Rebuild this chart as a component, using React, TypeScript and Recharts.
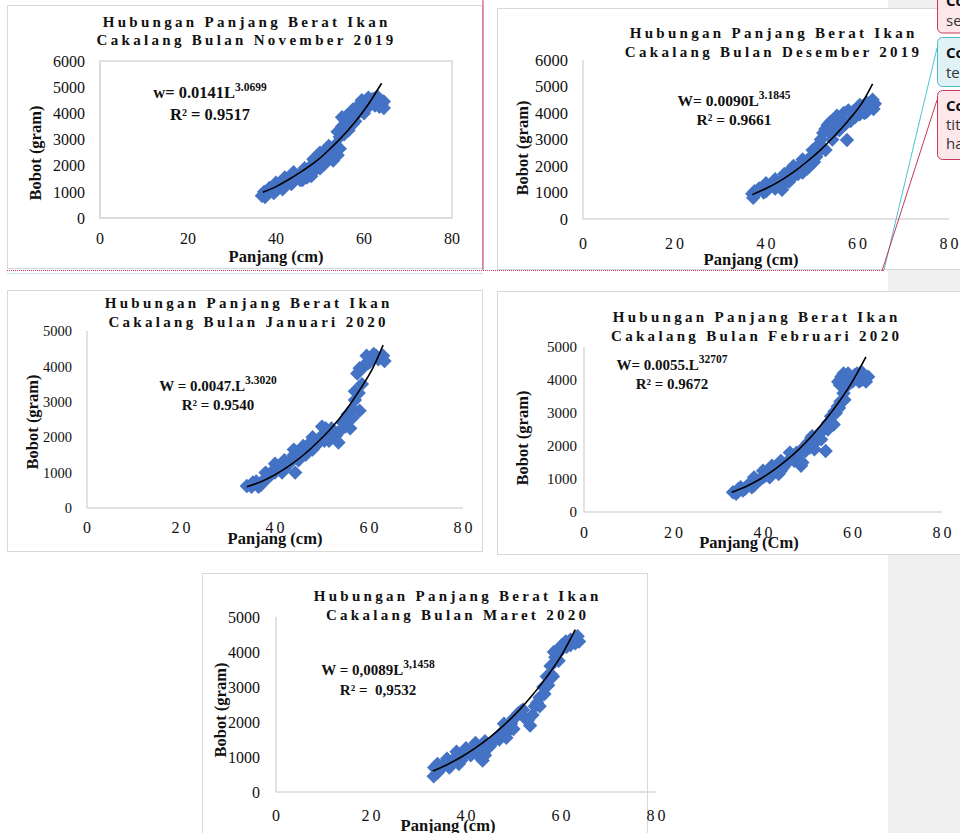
import { ReferenceArea, Scatter, ScatterChart, XAxis, YAxis } from "recharts";

type Pair = [number, number];

const xTicks = [0, 20, 40, 60, 80];
const yTicks6000 = [0, 1000, 2000, 3000, 4000, 5000, 6000];
const yTicks5000 = [0, 1000, 2000, 3000, 4000, 5000];

// [panjang (cm), bobot (gram)]
const novPoints: Pair[] = [
  [36.8, 850], [37.3, 1000], [37.5, 800], [38.2, 950], [38.5, 1150], [39, 1100], [39.5, 950],
  [40, 1050], [40, 1350], [40.5, 1250], [41, 1200], [41.5, 1100], [42, 1300], [42, 1550],
  [42.5, 1450], [43, 1500], [43.5, 1300], [44, 1400], [44, 1750], [44.5, 1650], [45, 1600],
  [45.5, 1450], [46, 1750], [46, 1450], [46.5, 1900], [47, 1550], [47, 1700], [47.5, 1900],
  [48, 2000], [48, 1600], [48.5, 1800], [48.5, 2250], [49, 1850], [49, 2200], [49.5, 2100],
  [50, 1900], [50, 2500], [50.5, 2200], [50.5, 2450], [51, 2350], [51, 2050], [51.5, 2650],
  [52, 2350], [52, 2750], [52.5, 2500], [53, 2200], [53, 2650], [53.5, 2800], [53.5, 2350],
  [54, 2400], [54, 3300], [54.5, 3100], [54.5, 2650], [55, 3500], [55, 3850], [55.5, 3200],
  [55.8, 3700], [56, 3900], [56.5, 3350], [56.5, 3700], [57, 3900], [57.5, 3600], [57.5, 4150],
  [58, 3700], [58, 3900], [58.5, 4100], [59, 4350], [59, 4100], [59.5, 4500], [60, 4250],
  [60, 4000], [60.5, 4500], [61, 4600], [61, 4250], [61.5, 4350], [62, 4550], [62.5, 4300],
  [63, 4450], [63, 4650], [63.5, 4250], [64, 4350], [64.5, 4200], [64.5, 4450],
];
const novTrend: Pair[] = [
  [37, 980], [40, 1200], [43, 1480], [46, 1800], [49, 2150], [52, 2600], [55, 3100],
  [58, 3680], [61, 4350], [64, 5150],
];

const desPoints: Pair[] = [
  [37, 950], [37.2, 800], [37.5, 1050], [38, 1000], [38.5, 1150], [39, 1150], [39.5, 1000],
  [40, 1050], [40, 1350], [40.5, 1150], [41, 1300], [41.5, 1250], [42, 1150], [42, 1500],
  [42.5, 1350], [43, 1400], [43.5, 1100], [44, 1350], [44, 1700], [44.5, 1550], [45, 1400],
  [45, 1800], [45.5, 1700], [46, 1600], [46, 2000], [46.5, 1850], [47, 1950], [47, 1700],
  [47.5, 2050], [48, 1750], [48, 2250], [48.5, 2000], [49, 2150], [49, 1900], [49.5, 2300],
  [49.5, 2000], [50, 2350], [50.2, 2600], [50.5, 2150], [51, 2350], [51.5, 2800], [51.5, 2550],
  [52, 3000], [52.5, 3250], [52.5, 2700], [53, 2600], [53, 3400], [53.5, 3550], [54, 3650],
  [54.2, 3200], [54.5, 3000], [55, 3700], [55, 3350], [55.5, 3900], [56, 3800], [56, 3350],
  [56.5, 3550], [57, 4000], [57.5, 3600], [57.7, 2980], [58, 4100], [58.5, 3700], [59, 4050],
  [59.5, 3850], [60, 4150], [60.5, 3950], [60.5, 4300], [61, 4250], [61.5, 4000], [62, 4050],
  [62, 4400], [62.5, 4350], [63, 4300], [63.3, 4500], [63.5, 4150], [63.8, 4350],
];
const desTrend: Pair[] = [
  [37, 920], [40, 1150], [43, 1430], [46, 1770], [49, 2170], [52, 2620], [55, 3140],
  [58, 3720], [61, 4380], [63.3, 5100],
];

const janPoints: Pair[] = [
  [34, 620], [35, 600], [35.3, 720], [36, 750], [36.5, 600], [37, 650], [37.5, 750],
  [38, 850], [38, 1000], [38.5, 850], [39, 950], [39.5, 1050], [40, 1000], [40, 1250],
  [40.5, 1150], [41, 1200], [41.5, 1000], [42, 1100], [42, 1350], [42.5, 1200], [43, 1250],
  [43.5, 1350], [44, 1500], [44, 1650], [44.3, 1000], [45, 1550], [45, 1350], [46, 1600],
  [46, 1750], [46.5, 1500], [47, 1700], [47.5, 1850], [48, 1650], [48, 2000], [48.5, 1750],
  [49, 1800], [49.5, 1950], [50, 2050], [50, 2300], [50.5, 1900], [50.8, 2250], [51, 2150],
  [51.5, 1900], [52, 2250], [52.5, 2150], [53, 2050], [53.5, 1850], [54, 2200], [54.5, 2400],
  [55, 2500], [55, 2300], [55.5, 2650], [56, 2250], [56.5, 2800], [56.5, 2550], [57, 3050],
  [57, 3300], [57.8, 3250], [58, 2750], [58.5, 3500], [57.5, 3800], [58, 3950], [58.5, 3950],
  [59, 4000], [59.5, 4100], [59.5, 4300], [60, 4100], [60.5, 4200], [61, 4350], [61.5, 4300],
  [62, 4200], [62.5, 4250], [63, 4300], [63.3, 4150],
];
const janTrend: Pair[] = [
  [34, 600], [37, 740], [40, 940], [43, 1190], [46, 1490], [49, 1850], [52, 2260],
  [55, 2750], [58, 3330], [61, 4000], [63, 4600],
];

const febPoints: Pair[] = [
  [33.3, 600], [34, 550], [34.5, 700], [35, 750], [35.5, 650], [36, 700], [36.5, 800],
  [37, 850], [37.5, 750], [38, 800], [38, 1050], [38.5, 900], [39, 950], [39.5, 1000],
  [40, 1050], [40, 1250], [40.5, 1100], [41, 1200], [41.5, 1050], [42, 1150], [42, 1400],
  [42.5, 1250], [43, 1300], [43.5, 1150], [44, 1250], [44, 1550], [44.5, 1350], [45, 1450],
  [45.5, 1500], [46, 1600], [46, 1800], [46.5, 1650], [47, 1550], [47.5, 1800], [48, 1750],
  [48.5, 1400], [48.8, 1500], [49, 1950], [49.5, 1850], [50, 2100], [50.5, 1950], [50.8, 2250],
  [51, 2300], [51.5, 1900], [52, 2150], [52.5, 2350], [53, 2450], [53, 2200], [53.5, 2500],
  [54, 1850], [54.5, 2700], [54.5, 2500], [55, 2750], [55.2, 2900], [55.8, 2650], [56, 3050],
  [56.3, 3000], [56.7, 3200], [57, 3150], [57.3, 3350], [58, 3600], [58.2, 3400], [56.8, 3950],
  [57.2, 3850], [57.5, 4100], [58, 4200], [58.5, 3900], [59, 3850], [59, 4200], [59.5, 4050],
  [60, 3950], [60.5, 4150], [61, 4200], [61.5, 3950], [62, 4000], [62, 4250], [62.5, 4100],
  [63, 3950], [63.5, 4100],
];
const febTrend: Pair[] = [
  [33, 600], [36, 760], [39, 970], [42, 1230], [45, 1540], [48, 1900], [51, 2320],
  [54, 2800], [57, 3340], [60, 3960], [63, 4700],
];

const marPoints: Pair[] = [
  [33.2, 450], [33.3, 700], [34, 550], [34, 800], [34.5, 650], [35, 700], [35.5, 800],
  [36, 850], [36, 950], [36.5, 700], [37, 800], [37.5, 950], [38, 1000], [38, 1150],
  [38.5, 800], [39, 900], [39.5, 1050], [40, 1100], [40, 1250], [40.5, 1150], [41, 1050],
  [41.5, 1250], [42, 1300], [42, 1400], [42.5, 1050], [43, 1200], [43.5, 900], [44, 1050],
  [44, 1450], [44.5, 1250], [45, 1300], [45.5, 1400], [46, 1500], [46.5, 1550], [47, 1500],
  [47.5, 1700], [48, 1700], [48, 1950], [48.5, 1550], [49, 1750], [49.5, 1950], [50, 1800],
  [50, 2100], [50.5, 2150], [51, 2250], [51.5, 2300], [52, 2350], [52.5, 2100], [53, 2050],
  [53.5, 1900], [54, 2200], [54.5, 2450], [55, 2550], [55.5, 2700], [55.5, 2450], [56.3, 3000],
  [56.5, 2800], [57, 3300], [57.3, 3050], [57.8, 3600], [58, 3350], [58.3, 3300], [58.5, 4000],
  [58.8, 3850], [59.3, 4050], [59.5, 3750], [60, 4050], [60.2, 4200], [61, 4300], [61.2, 4150],
  [62, 4350], [62, 4200], [63, 4400], [63, 4250], [63.5, 4450], [63.8, 4300],
];
const marTrend: Pair[] = [
  [33, 600], [36, 780], [39, 1000], [42, 1260], [45, 1560], [48, 1910], [51, 2310],
  [54, 2770], [57, 3290], [60, 3880], [63, 4640],
];

const SERIF = '"Liberation Serif", "Times New Roman", serif';
const SANS = '"Open Sans", "Noto Sans", sans-serif';
const BLUE = "#4472c4";
const AXIS = "#d9d9d9";
const INK = "#111";

const toXY = (pairs: Pair[]) => pairs.map(([x, y]) => ({ x, y }));

// page-pixel layout of each pasted chart
const panels = [
  {
    id: "nov", frame: { left: 7, top: 5, w: 476, h: 264 },
    plot: { x0: 100, x1: 452, yTop: 61, yBot: 218 }, yMax: 6000, yTicks: yTicks6000, boxed: true,
    yFs: 16, yGap: 15, xFs: 16, xGap: 15, xLs: 0,
    points: novPoints, trend: novTrend,
    title: { cx: 245, b1: 27, b2: 45, line2: "Cakalang Bulan November 2019" },
    eq: { cx: 210, b1: 98, b2: 120, fs: 16.5, main: "w= 0.0141L", sup: "3.0699", r2: "R² = 0.9517" },
    yLabel: { x: 35, y: 153 }, xLabel: { x: 276, y: 262, text: "Panjang (cm)" },
  },
  {
    id: "des", frame: { left: 497, top: 8, w: 480, h: 262 },
    plot: { x0: 583, x1: 949, yTop: 60, yBot: 219 }, yMax: 6000, yTicks: yTicks6000, boxed: false,
    yFs: 16.5, yGap: 15, xFs: 16, xGap: 19, xLs: 3,
    points: desPoints, trend: desTrend,
    title: { cx: 772, b1: 38, b2: 57, line2: "Cakalang Bulan Desember 2019" },
    eq: { cx: 734, b1: 106, b2: 125, fs: 15.5, main: "W= 0.0090L", sup: "3.1845", r2: "R² = 0.9661" },
    yLabel: { x: 522, y: 148 }, xLabel: { x: 751, y: 265, text: "Panjang (cm)" },
  },
  {
    id: "jan", frame: { left: 7, top: 290, w: 476, h: 262 },
    plot: { x0: 87, x1: 463, yTop: 331, yBot: 508 }, yMax: 5000, yTicks: yTicks5000, boxed: false,
    yFs: 14.5, yGap: 15, xFs: 16, xGap: 14, xLs: 3,
    points: janPoints, trend: janTrend,
    title: { cx: 247, b1: 308, b2: 327, line2: "Cakalang Bulan Januari 2020" },
    eq: { cx: 218, b1: 391, b2: 410, fs: 15, main: "W = 0.0047.L", sup: "3.3020", r2: "R² = 0.9540" },
    yLabel: { x: 32, y: 422 }, xLabel: { x: 275, y: 544, text: "Panjang (cm)" },
  },
  {
    id: "feb", frame: { left: 497, top: 291, w: 480, h: 264 },
    plot: { x0: 584, x1: 942, yTop: 347, yBot: 512 }, yMax: 5000, yTicks: yTicks5000, boxed: false,
    yFs: 15, yGap: 7, xFs: 16, xGap: 15, xLs: 3,
    points: febPoints, trend: febTrend,
    title: { cx: 755, b1: 322, b2: 341, line2: "Cakalang Bulan Februari 2020" },
    eq: { cx: 672, b1: 370, b2: 389, fs: 15, main: "W= 0.0055.L", sup: "32707", r2: "R² = 0.9672" },
    yLabel: { x: 522, y: 438 }, xLabel: { x: 749, y: 548, text: "Panjang (Cm)" },
  },
  {
    id: "mar", frame: { left: 202, top: 573, w: 446, h: 300 },
    plot: { x0: 276, x1: 656, yTop: 617, yBot: 792 }, yMax: 5000, yTicks: yTicks5000, boxed: false,
    yFs: 16, yGap: 16, xFs: 16, xGap: 18, xLs: 3,
    points: marPoints, trend: marTrend,
    title: { cx: 456, b1: 601, b2: 620, line2: "Cakalang Bulan Maret 2020" },
    eq: { cx: 378, b1: 675, b2: 695, fs: 15, main: "W = 0,0089L", sup: "3,1458", r2: "R² =\u00a0 0,9532" },
    yLabel: { x: 220, y: 710 }, xLabel: { x: 448, y: 831, text: "Panjang (cm)" },
  },
];

type PanelCfg = (typeof panels)[number];

function Diamond(props: any) {
  const { cx, cy } = props;
  if (cx == null || cy == null) return <g />;
  const r = 7.2;
  return (
    <polygon
      points={`${cx},${cy - r} ${cx + r},${cy} ${cx},${cy + r} ${cx - r},${cy}`}
      fill={BLUE}
    />
  );
}

function AxisTick(props: any) {
  const { x, y, payload, textAnchor, fs, ls, left } = props;
  return (
    <text
      x={left ? x : x + ls / 2}
      y={y}
      dy={left ? "0.355em" : "0.71em"}
      textAnchor={textAnchor}
      fontFamily={SERIF}
      fontSize={fs}
      letterSpacing={ls}
      fill={INK}
    >
      {payload.value}
    </text>
  );
}

function PanelChart({ p }: { p: PanelCfg }) {
  const { frame, plot } = p;
  const axisH = 34;
  const right = 30;
  const width = plot.x1 + right - frame.left;
  const height = plot.yBot + axisH - frame.top;
  return (
    <div style={{ position: "absolute", left: frame.left, top: frame.top }}>
      <ScatterChart
        width={width}
        height={height}
        margin={{ top: plot.yTop - frame.top, right, bottom: 0, left: 0 }}
      >
        <XAxis
          type="number"
          dataKey="x"
          domain={[0, 80]}
          ticks={xTicks}
          height={axisH}
          tickSize={0}
          tickMargin={p.xGap}
          tickLine={false}
          axisLine={{ stroke: AXIS, strokeWidth: 1.5 }}
          tick={(t: any) => <AxisTick {...t} fs={p.xFs} ls={p.xLs} left={false} />}
        />
        <YAxis
          type="number"
          dataKey="y"
          domain={[0, p.yMax]}
          ticks={p.yTicks}
          width={plot.x0 - frame.left}
          tickSize={0}
          tickMargin={p.yGap}
          tickLine={false}
          axisLine={{ stroke: AXIS, strokeWidth: 1.5 }}
          tick={(t: any) => <AxisTick {...t} fs={p.yFs} ls={0} left />}
        />
        {p.boxed && (
          <ReferenceArea x1={0} x2={80} y1={0} y2={p.yMax} fill="none" stroke={AXIS} strokeWidth={1.5} />
        )}
        <Scatter
          data={toXY(p.points)}
          shape={(s: any) => <Diamond {...s} />}
          isAnimationActive={false}
        />
        <Scatter
          data={toXY(p.trend)}
          shape={() => <g />}
          line={{ stroke: "#000", strokeWidth: 1.6 }}
          lineType="joint"
          lineJointType="monotoneX"
          isAnimationActive={false}
        />
      </ScatterChart>
    </div>
  );
}

function PanelText({ p }: { p: PanelCfg }) {
  const { title, eq, yLabel, xLabel } = p;
  const ls = 3.3;
  return (
    <g fontFamily={SERIF} fill={INK}>
      <text x={title.cx + ls / 2} y={title.b1} textAnchor="middle" fontSize={15} fontWeight={700} letterSpacing={ls}>
        Hubungan Panjang Berat Ikan
      </text>
      <text x={title.cx + ls / 2} y={title.b2} textAnchor="middle" fontSize={15} fontWeight={700} letterSpacing={ls}>
        {title.line2}
      </text>
      <text x={eq.cx} y={eq.b1} textAnchor="middle" fontSize={eq.fs} fontWeight={700}>
        {eq.main}
        <tspan fontSize={11.5} dy={-7}>{eq.sup}</tspan>
      </text>
      <text x={eq.cx} y={eq.b2} textAnchor="middle" fontSize={eq.fs} fontWeight={700}>
        {eq.r2}
      </text>
      <text
        x={yLabel.x}
        y={yLabel.y}
        dy="0.35em"
        textAnchor="middle"
        fontSize={16.5}
        fontWeight={700}
        transform={`rotate(-90 ${yLabel.x} ${yLabel.y})`}
      >
        Bobot (gram)
      </text>
      <text x={xLabel.x} y={xLabel.y} textAnchor="middle" fontSize={16.5} fontWeight={700}>
        {xLabel.text}
      </text>
    </g>
  );
}

export default function App() {
  return (
    <div
      style={{
        position: "absolute",
        left: 0,
        top: 0,
        width: 960,
        height: 833,
        overflow: "hidden",
        background: "#fff",
      }}
    >
      <div style={{ position: "absolute", left: 888, top: 0, width: 72, height: 833, background: "#f0f0f0" }} />
      {panels.map((p) => (
        <div
          key={p.id + "-frame"}
          style={{
            position: "absolute",
            left: p.frame.left,
            top: p.frame.top,
            width: p.frame.w,
            height: p.frame.h,
            boxSizing: "border-box",
            border: `1px solid ${AXIS}`,
            background: "#fff",
          }}
        />
      ))}
      {panels.map((p) => (
        <PanelChart key={p.id} p={p} />
      ))}
      <svg
        width={960}
        height={833}
        style={{ position: "absolute", left: 0, top: 0, pointerEvents: "none" }}
      >
        {panels.map((p) => (
          <PanelText key={p.id + "-text"} p={p} />
        ))}
        {/* comment markers of the document */}
        <line x1={7} y1={273.5} x2={483} y2={273.5} stroke="#c4e6ee" />
        <line x1={483} y1={0} x2={483} y2={270} stroke="#c8385a" />
        <line x1={7} y1={270.5} x2={884} y2={270.5} stroke="#c8385a" strokeDasharray="1 1" />
        <line x1={884} y1={270} x2={937} y2={48} stroke="#4fc1d6" />
        <line x1={882} y1={271} x2={937} y2={100} stroke="#c8385a" />
        <rect x={937.5} y={-20} width={40} height={53} rx={5} fill="#fde7eb" stroke="#c8385a" />
        <rect x={937.5} y={37.5} width={40} height={49} rx={5} fill="#e0f2f6" stroke="#4fb8cc" />
        <rect x={937.5} y={90.5} width={40} height={69} rx={5} fill="#fde7eb" stroke="#c8385a" />
        <g fontFamily={SANS} fontSize={15}>
          <text x={946} y={6} fontWeight={700} fill="#111">Co</text>
          <text x={946} y={26} fill="#333">se</text>
          <text x={946} y={58} fontWeight={700} fill="#111">Co</text>
          <text x={946} y={78} fill="#333">te</text>
          <text x={946} y={111} fontWeight={700} fill="#111">Co</text>
          <text x={946} y={130} fill="#333">tit</text>
          <text x={946} y={149} fill="#333">ha</text>
        </g>
      </svg>
    </div>
  );
}
